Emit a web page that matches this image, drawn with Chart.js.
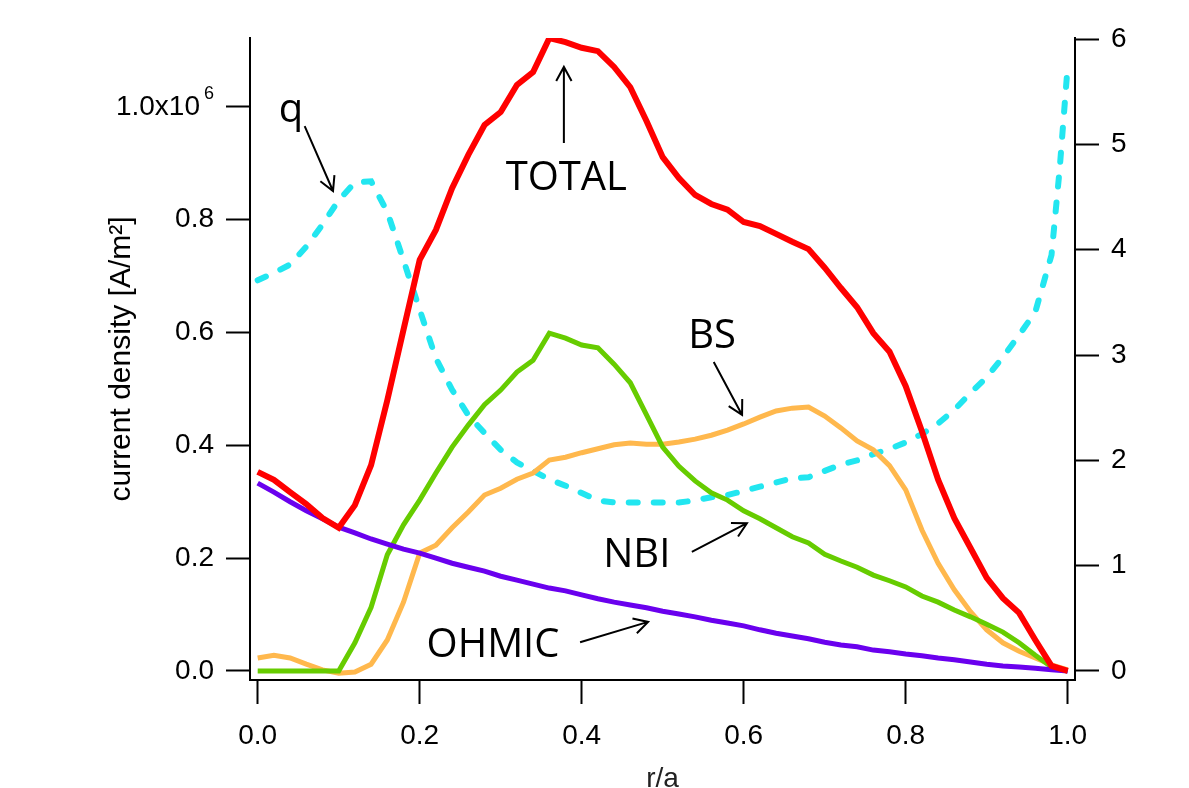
<!DOCTYPE html>
<html>
<head>
<meta charset="utf-8">
<script src="https://cdn.jsdelivr.net/npm/chart.js@4.4.0/dist/chart.umd.min.js"></script>
<style>
  html, body { margin: 0; padding: 0; background: #fff; }
  #wrap { width: 1189px; height: 788px; }
</style>
</head>
<body>
<div id="wrap"><canvas id="chart" width="1189" height="788"></canvas></div>
<script>
// r/a grid shared by the current density profiles
const rGrid = [0, 0.02, 0.04, 0.06, 0.08, 0.10, 0.12, 0.14, 0.16, 0.18,
  0.20, 0.22, 0.24, 0.26, 0.28, 0.30, 0.32, 0.34, 0.36, 0.38,
  0.40, 0.42, 0.44, 0.46, 0.48, 0.50, 0.52, 0.54, 0.56, 0.58,
  0.60, 0.62, 0.64, 0.66, 0.68, 0.70, 0.72, 0.74, 0.76, 0.78,
  0.80, 0.82, 0.84, 0.86, 0.88, 0.90, 0.92, 0.94, 0.96, 0.98, 1.0];

// current densities in units of 1e6 A/m^2
const totalJ = [0.353, 0.339, 0.317, 0.296, 0.271, 0.254, 0.294, 0.365, 0.480, 0.605,
  0.729, 0.782, 0.856, 0.915, 0.968, 0.991, 1.039, 1.062, 1.122, 1.115,
  1.105, 1.099, 1.071, 1.035, 0.975, 0.911, 0.874, 0.844, 0.828, 0.818,
  0.796, 0.789, 0.775, 0.761, 0.748, 0.715, 0.679, 0.645, 0.599, 0.566,
  0.505, 0.425, 0.339, 0.271, 0.218, 0.165, 0.129, 0.103, 0.055, 0.009, 0.0];

const nbiJ = [0, 0, 0, 0, 0, 0, 0.050, 0.113, 0.206, 0.259,
  0.303, 0.351, 0.397, 0.436, 0.472, 0.498, 0.530, 0.551, 0.599, 0.590,
  0.578, 0.573, 0.544, 0.511, 0.454, 0.397, 0.363, 0.337, 0.316, 0.303,
  0.284, 0.270, 0.254, 0.238, 0.227, 0.207, 0.195, 0.184, 0.170, 0.160,
  0.149, 0.133, 0.122, 0.108, 0.096, 0.083, 0.069, 0.050, 0.028, 0.007, 0];

const bsJ = [0.023, 0.028, 0.023, 0.012, 0.002, -0.004, -0.002, 0.012, 0.055, 0.122,
  0.209, 0.223, 0.254, 0.282, 0.312, 0.324, 0.340, 0.351, 0.374, 0.379,
  0.387, 0.394, 0.401, 0.404, 0.402, 0.402, 0.406, 0.411, 0.418, 0.427,
  0.438, 0.450, 0.461, 0.466, 0.468, 0.452, 0.431, 0.408, 0.392, 0.364,
  0.321, 0.250, 0.191, 0.144, 0.105, 0.073, 0.050, 0.035, 0.023, 0.011, 0.002];

const ohmicJ = [0.333, 0.317, 0.300, 0.284, 0.270, 0.255, 0.245, 0.234, 0.225, 0.216,
  0.209, 0.200, 0.191, 0.184, 0.177, 0.168, 0.161, 0.154, 0.147, 0.142,
  0.135, 0.128, 0.122, 0.117, 0.112, 0.106, 0.101, 0.096, 0.090, 0.085,
  0.080, 0.073, 0.067, 0.062, 0.057, 0.051, 0.046, 0.043, 0.037, 0.034,
  0.030, 0.027, 0.023, 0.020, 0.016, 0.012, 0.009, 0.007, 0.005, 0.002, 0];

// safety factor q (right axis)
const rQ = [0, 0.02, 0.04, 0.06, 0.08, 0.10, 0.12, 0.14, 0.16, 0.18,
  0.20, 0.22, 0.24, 0.26, 0.28, 0.30, 0.32, 0.34, 0.36, 0.38,
  0.40, 0.42, 0.44, 0.46, 0.48, 0.50, 0.52, 0.54, 0.56, 0.58,
  0.60, 0.62, 0.64, 0.66, 0.68, 0.70, 0.72, 0.74, 0.76, 0.78,
  0.80, 0.82, 0.84, 0.86, 0.88, 0.90, 0.92, 0.94, 0.96, 0.98, 0.99, 1.0];
const qVals = [3.71, 3.78, 3.86, 4.03, 4.24, 4.47, 4.64, 4.65, 4.36, 3.90,
  3.43, 2.97, 2.67, 2.43, 2.26, 2.10, 1.98, 1.90, 1.82, 1.76,
  1.69, 1.62, 1.60, 1.60, 1.60, 1.60, 1.60, 1.62, 1.65, 1.67,
  1.71, 1.75, 1.79, 1.83, 1.84, 1.90, 1.96, 2.00, 2.06, 2.11,
  2.17, 2.25, 2.35, 2.48, 2.64, 2.79, 2.98, 3.19, 3.41, 3.95, 4.76, 5.75];

const xTicks = [0, 0.2, 0.4, 0.6, 0.8, 1.0];
const jTicks = [0, 0.2, 0.4, 0.6, 0.8, 1.0];
const qTicks = [0, 1, 2, 3, 4, 5, 6];

// text labels and arrows, in (r/a, current density) coordinates
const notes = [
  { text: 'q', x: 0.041, y: 0.973 },
  { text: 'TOTAL', x: 0.381, y: 0.853 },
  { text: 'BS', x: 0.561, y: 0.573 },
  { text: 'NBI', x: 0.468, y: 0.184 },
  { text: 'OHMIC', x: 0.2905, y: 0.025 }
];
const arrows = [
  { x1: 0.058, y1: 0.966, x2: 0.093, y2: 0.851 },
  { x1: 0.378, y1: 0.936, x2: 0.378, y2: 1.071 },
  { x1: 0.563, y1: 0.548, x2: 0.598, y2: 0.454 },
  { x1: 0.536, y1: 0.211, x2: 0.604, y2: 0.262 },
  { x1: 0.398, y1: 0.051, x2: 0.482, y2: 0.087 }
];

const pts = (xs, ys) => xs.map((x, i) => ({ x: x, y: ys[i] }));
const tickFont = { family: "'Liberation Sans', Arial, sans-serif", size: 28 };
const titleFont = { family: "'Liberation Sans', Arial, sans-serif", size: 30 };

function axisStyle() {
  return {
    grid: { display: true, drawOnChartArea: false, drawTicks: true, tickLength: 24,
            tickWidth: 2, tickColor: '#000', color: '#000' },
    border: { display: true, color: '#000', width: 2 }
  };
}

const notesPlugin = {
  id: 'notes',
  afterDraw(chart) {
    const ctx = chart.ctx;
    const xs = chart.scales.x, ys = chart.scales.y;
    ctx.save();
    ctx.fillStyle = '#000';
    // exponent of the top left tick label
    ctx.font = "18px 'Liberation Sans', Arial, sans-serif";
    ctx.textAlign = 'right';
    ctx.textBaseline = 'middle';
    ctx.fillText('6', ys.right - 24 - 12, ys.getPixelForValue(1) - 13);

    ctx.font = "40px 'Open Sans', sans-serif";
    ctx.textAlign = 'center';
    ctx.textBaseline = 'alphabetic';
    notes.forEach(n => {
      ctx.fillText(n.text, xs.getPixelForValue(n.x), ys.getPixelForValue(n.y));
    });
    ctx.strokeStyle = '#000';
    ctx.lineWidth = 2;
    arrows.forEach(a => {
      const px1 = xs.getPixelForValue(a.x1), py1 = ys.getPixelForValue(a.y1);
      const px2 = xs.getPixelForValue(a.x2), py2 = ys.getPixelForValue(a.y2);
      const ang = Math.atan2(py2 - py1, px2 - px1);
      const head = 16, spread = 0.5;
      ctx.beginPath();
      ctx.moveTo(px1, py1);
      ctx.lineTo(px2, py2);
      ctx.moveTo(px2 - head * Math.cos(ang - spread), py2 - head * Math.sin(ang - spread));
      ctx.lineTo(px2, py2);
      ctx.lineTo(px2 - head * Math.cos(ang + spread), py2 - head * Math.sin(ang + spread));
      ctx.stroke();
    });
    ctx.restore();
  }
};

new Chart(document.getElementById('chart'), {
  type: 'line',
  data: {
    datasets: [
      { label: 'TOTAL', data: pts(rGrid, totalJ), yAxisID: 'y', borderColor: '#ff0000',
        borderWidth: 6, order: 0 },
      { label: 'OHMIC', data: pts(rGrid, ohmicJ), yAxisID: 'y', borderColor: '#6a00ee',
        borderWidth: 5, order: 1 },
      { label: 'NBI', data: pts(rGrid, nbiJ), yAxisID: 'y', borderColor: '#66cc00',
        borderWidth: 5, order: 2 },
      { label: 'BS', data: pts(rGrid, bsJ), yAxisID: 'y', borderColor: '#ffb84d',
        borderWidth: 5, order: 3 },
      { label: 'q', data: pts(rQ, qVals), yAxisID: 'y2', borderColor: '#22e6f0',
        borderWidth: 6, borderDash: [9, 16], borderCapStyle: 'round', order: 4 }
    ]
  },
  options: {
    responsive: false,
    animation: false,
    events: [],
    elements: { point: { radius: 0 }, line: { tension: 0, fill: false } },
    layout: { padding: { left: 0, right: 0, top: 38, bottom: 0 } },
    plugins: { legend: { display: false }, tooltip: { enabled: false } },
    scales: {
      x: {
        type: 'linear', min: -0.0095, max: 1.009,
        ...axisStyle(),
        afterBuildTicks: s => { s.ticks = xTicks.map(v => ({ value: v })); },
        afterFit: s => { s.height = 108; },
        ticks: { font: tickFont, color: '#000', padding: 15, maxRotation: 0, autoSkip: false,
                 callback: v => v.toFixed(1) },
        title: { display: true, text: 'r/a', font: tickFont, color: '#222', padding: { top: 0, bottom: -8 } }
      },
      y: {
        type: 'linear', position: 'left', min: -0.016, max: 1.1223,
        ...axisStyle(),
        afterBuildTicks: s => { s.ticks = jTicks.map(v => ({ value: v })); },
        afterFit: s => { s.width = 250; },
        ticks: { font: tickFont, color: '#000', padding: 12, autoSkip: false,
                 callback: v => v === 1 ? '1.0x10\u2002' : v.toFixed(1) },
        title: { display: true, text: 'current density [A/m\u00b2]', font: titleFont, color: '#000',
                 padding: { top: 104, bottom: 0 } }
      },
      y2: {
        type: 'linear', position: 'right', min: -0.0855, max: 6.011,
        ...axisStyle(),
        afterBuildTicks: s => { s.ticks = qTicks.map(v => ({ value: v })); },
        afterFit: s => { s.width = 114; },
        ticks: { font: tickFont, color: '#000', padding: 12, autoSkip: false,
                 callback: v => String(v) }
      }
    }
  },
  plugins: [notesPlugin]
});
</script>
</body>
</html>
